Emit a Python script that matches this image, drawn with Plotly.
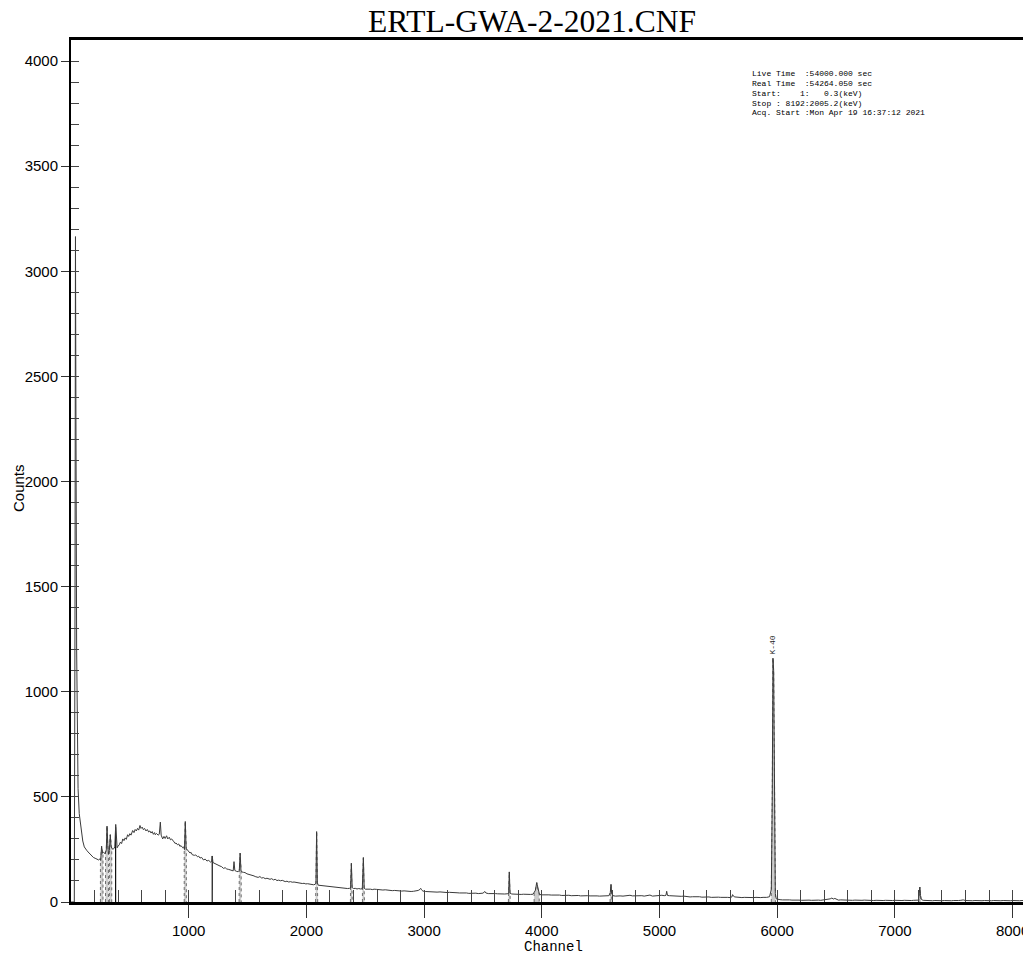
import numpy as np
import plotly.graph_objects as go

# ---------------- data ----------------
channels = [
    1, 25, 28, 34, 38, 42, 48, 54, 60, 70, 85, 100, 113, 125, 133, 145, 160, 175, 190, 205, 220, 235, 245,
    252, 260, 268, 277, 290, 300, 306, 312, 318, 326, 334, 340, 348, 356, 366, 372, 380, 386, 392, 400, 410,
    420, 430, 440, 450, 460, 470, 481, 490, 500, 510, 524, 535, 545, 555, 565, 575, 586, 595, 605, 615, 625,
    637, 648, 660, 670, 680, 690, 700, 710, 716, 726, 740, 750, 759, 766, 779, 790, 800, 812, 822, 835, 845,
    855, 865, 875, 885, 892, 905, 915, 925, 935, 949, 958, 964, 971, 978, 991, 1000, 1011, 1020, 1030, 1048,
    1060, 1075, 1085, 1096, 1110, 1125, 1140, 1155, 1170, 1185, 1195, 1200, 1206, 1215, 1230, 1245, 1266,
    1280, 1295, 1310, 1323, 1340, 1355, 1370, 1378, 1385, 1392, 1405, 1420, 1430, 1437, 1444, 1455, 1466,
    1478, 1495, 1510, 1525, 1540, 1555, 1565, 1578, 1590, 1605, 1620, 1635, 1650, 1665, 1680, 1691, 1705,
    1720, 1735, 1750, 1765, 1780, 1795, 1804, 1820, 1835, 1850, 1865, 1880, 1895, 1917, 1935, 1950, 1965,
    1980, 1995, 2010, 2030, 2045, 2060, 2075, 2081, 2087, 2093, 2100, 2115, 2130, 2143, 2160, 2175, 2190,
    2205, 2220, 2235, 2257, 2275, 2290, 2305, 2320, 2335, 2350, 2365, 2375, 2382, 2389, 2400, 2415, 2430,
    2445, 2460, 2475, 2484, 2491, 2500, 2515, 2530, 2545, 2560, 2575, 2597, 2615, 2630, 2650, 2670, 2690,
    2710, 2730, 2750, 2770, 2790, 2810, 2830, 2850, 2870, 2890, 2910, 2930, 2950, 2965, 2971, 2978, 2990,
    3010, 3030, 3050, 3070, 3090, 3110, 3135, 3155, 3175, 3195, 3215, 3240, 3260, 3280, 3300, 3320, 3340,
    3360, 3380, 3400, 3418, 3440, 3460, 3480, 3500, 3517, 3525, 3545, 3565, 3585, 3605, 3625, 3645, 3665,
    3685, 3705, 3718, 3724, 3730, 3745, 3765, 3785, 3805, 3825, 3843, 3865, 3885, 3905, 3925, 3945, 3957,
    3968, 3980, 4000, 4020, 4040, 4060, 4080, 4100, 4127, 4150, 4170, 4190, 4210, 4230, 4250, 4270, 4290,
    4310, 4330, 4350, 4370, 4390, 4410, 4430, 4450, 4470, 4490, 4510, 4530, 4550, 4570, 4582, 4588, 4594,
    4605, 4625, 4645, 4665, 4690, 4710, 4730, 4749, 4770, 4790, 4810, 4830, 4850, 4870, 4890, 4919, 4940,
    4960, 4980, 5000, 5020, 5040, 5055, 5061, 5068, 5085, 5105, 5125, 5145, 5165, 5185, 5205, 5225, 5245,
    5260, 5280, 5300, 5320, 5340, 5360, 5380, 5400, 5420, 5440, 5460, 5480, 5500, 5520, 5540, 5560, 5580,
    5600, 5615, 5621, 5628, 5640, 5660, 5680, 5700, 5720, 5740, 5760, 5780, 5800, 5820, 5840, 5860, 5880,
    5900, 5911, 5935, 5950, 5958, 5964, 5970, 5976, 5984, 5992, 6005, 6024, 6045, 6065, 6085, 6105, 6125,
    6145, 6165, 6185, 6205, 6225, 6250, 6270, 6290, 6310, 6330, 6350, 6370, 6390, 6410, 6430, 6450, 6465,
    6476, 6490, 6505, 6520, 6540, 6560, 6580, 6600, 6620, 6640, 6660, 6680, 6700, 6720, 6740, 6760, 6780,
    6800, 6820, 6840, 6860, 6880, 6900, 6920, 6940, 6960, 6980, 7000, 7020, 7040, 7060, 7080, 7100, 7120,
    7140, 7160, 7180, 7200, 7207, 7212, 7218, 7225, 7240, 7260, 7280, 7300, 7320, 7340, 7360, 7380, 7400,
    7420, 7440, 7460, 7480, 7500, 7520, 7540, 7560, 7580, 7600, 7620, 7640, 7660, 7680, 7700, 7720, 7740,
    7760, 7780, 7800, 7820, 7840, 7860, 7880, 7900, 7920, 7940, 7960, 7980, 8000, 8020, 8040, 8060, 8080,
    8100, 8130, 8160, 8192,
]
counts = [
    0, 0, 0, 1400, 3165, 2300, 1200, 760, 540, 420, 356, 290, 262, 250, 246, 238, 228, 222, 212, 208, 203, 200, 205,
    198, 265, 232, 236, 230, 248, 361, 280, 228, 245, 320, 262, 252, 250, 256, 262, 369, 270, 258, 266, 272,
    285, 278, 300, 292, 305, 298, 320, 312, 325, 318, 340, 330, 345, 338, 350, 342, 364, 350, 356, 344, 350,
    338, 345, 333, 338, 328, 335, 322, 330, 320, 326, 318, 322, 380, 318, 300, 312, 302, 315, 300, 308, 296,
    300, 290, 286, 278, 281, 272, 276, 265, 268, 258, 262, 250, 383, 255, 248, 240, 233, 236, 225, 222,
    224, 215, 218, 209, 212, 200, 204, 195, 198, 190, 192, 219, 188, 185, 180, 176, 171,
    168, 160, 163, 157, 155, 152, 150, 148, 192, 150, 146, 144, 150, 232, 150, 142, 141,
    140, 134, 132, 128, 126, 124, 121, 119, 117, 121, 114, 116, 111, 113, 109, 108, 111,
    105, 108, 102, 104, 101, 103, 100, 97, 99, 95, 97, 94, 95, 92, 90, 91, 88,
    89, 86, 87, 84, 85, 82, 84, 90, 335, 92, 80, 79, 80, 76, 77, 74, 75,
    72, 73, 70, 68, 70, 67, 68, 65, 66, 64, 65, 66, 184, 68, 64, 65, 62,
    64, 62, 63, 211, 66, 61, 62, 60, 61, 59, 61, 60, 58, 59, 57, 58, 56,
    56, 54, 55, 53, 54, 52, 53, 51, 52, 50, 51, 52, 55, 60, 65, 58, 52,
    50, 49, 50, 48, 49, 47, 48, 46, 47, 45, 46, 44, 45, 44, 43, 44, 42,
    43, 41, 42, 41, 42, 40, 41, 42, 50, 43, 40, 41, 39, 40, 39, 38, 39,
    38, 39, 40, 143, 42, 38, 37, 38, 37, 36, 37, 36, 35, 36, 37, 55, 92,
    55, 36, 34, 35, 33, 34, 33, 34, 32, 33, 31, 32, 31, 32, 30, 31, 30,
    31, 29, 30, 29, 30, 29, 30, 28, 29, 28, 29, 28, 29, 30, 45, 84, 40,
    30, 28, 30, 29, 28, 30, 29, 32, 29, 30, 28, 29, 30, 28, 29, 33, 28,
    29, 33, 31, 32, 30, 32, 51, 31, 30, 29, 30, 28, 29, 27, 28, 26, 27,
    24, 25, 26, 24, 25, 23, 24, 23, 24, 22, 23, 22, 23, 22, 23, 21, 22,
    21, 24, 35, 28, 24, 22, 23, 21, 22, 21, 22, 20, 21, 22, 20, 21, 22,
    21, 22, 25, 60, 500, 1160, 1100, 450, 40, 15, 12, 11, 10, 11, 9, 10, 9,
    10, 8, 9, 8, 9, 8, 9, 8, 9, 8, 9, 8, 10, 9, 12, 15, 19,
    14, 17, 11, 9, 10, 9, 10, 8, 9, 8, 9, 8, 9, 8, 9, 8, 7,
    8, 7, 8, 7, 8, 7, 8, 7, 8, 7, 8, 7, 8, 7, 8, 7, 8,
    7, 8, 7, 9, 40, 71, 30, 12, 8, 7, 8, 7, 6, 7, 6, 7, 6,
    7, 6, 7, 6, 7, 6, 7, 8, 10, 7, 6, 7, 6, 7, 6, 7, 6,
    7, 6, 7, 6, 7, 6, 7, 6, 7, 6, 7, 6, 7, 6, 7, 6, 7,
    6, 7, 6, 6,
]

# regions of interest (shaded peak areas)
roi_start = [250, 293, 326, 962, 1428, 2078, 2374, 2476, 3716, 3935, 4580, 5950, 7203]
roi_end = [272, 318, 346, 980, 1446, 2096, 2390, 2493, 3732, 3978, 4596, 5985, 7222]

# single-line peak markers
marker_channels = [379, 1200]

# identified peak label
peak_label = "K-40"
peak_label_channel = 5964

x_ticks = [1000, 2000, 3000, 4000, 5000, 6000, 7000, 8000]
y_ticks = [0, 500, 1000, 1500, 2000, 2500, 3000, 3500, 4000]

title_text = "ERTL-GWA-2-2021.CNF"
info_lines = [
    "Live Time  :54000.000 sec",
    "Real Time  :54264.050 sec",
    "Start:    1:   0.3(keV)",
    "Stop : 8192:2005.2(keV)",
    "Acq. Start :Mon Apr 19 16:37:12 2021",
]

# ---------------- figure ----------------
W, H = 1023, 961
ML, MR, MT, MB = 71, 0, 40, 59
PX_PER_CH = 0.1177
x_max = (W - ML - MR) / PX_PER_CH
y_max = 4100

ch = np.array(channels, dtype=float)
ct = np.array(counts, dtype=float)

SANS = "Liberation Sans, Arial, sans-serif"
MONO = "Liberation Mono, DejaVu Sans Mono, monospace"

fig = go.Figure()

# ROI shaded areas under the spectrum
for s, e in zip(roi_start, roi_end):
    inside = (ch > s) & (ch < e)
    xs = [s, s] + list(ch[inside]) + [e, e]
    ys = [0, float(np.interp(s, ch, ct))] + list(ct[inside]) + [float(np.interp(e, ch, ct)), 0]
    fig.add_trace(go.Scatter(
        x=xs, y=ys, mode="lines", fill="toself", fillcolor="#cccccc",
        line=dict(color="#6e6e6e", width=1, dash="dot"), hoverinfo="skip", showlegend=False,
    ))

# marker lines
for m in marker_channels:
    fig.add_trace(go.Scatter(
        x=[m, m], y=[0, float(np.interp(m, ch, ct))], mode="lines",
        line=dict(color="#111", width=1.2), hoverinfo="skip", showlegend=False,
    ))

# spectrum
fig.add_trace(go.Scatter(
    x=channels, y=counts, mode="lines", line=dict(color="#3a3a3a", width=1),
    showlegend=False,
))

# invisible trace for overlay axes (inside ticks)
fig.add_trace(go.Scatter(x=[0], y=[0], xaxis="x2", yaxis="y2", mode="markers",
                         marker=dict(opacity=0), hoverinfo="skip", showlegend=False))

def px_x(p):
    return (p - ML) / (W - ML - MR)

def px_y(p):
    return (H - MB - p) / (H - MT - MB)

annotations = []
annotations.append(dict(
    text=title_text, xref="paper", yref="paper", x=px_x(532), y=px_y(21),
    xanchor="center", yanchor="middle", showarrow=False,
    font=dict(family="Liberation Serif, Times New Roman, serif", size=31.5, color="#000"),
))
for i, line in enumerate(info_lines):
    annotations.append(dict(
        text=line.replace(" ", "&nbsp;"), xref="paper", yref="paper",
        x=px_x(750), y=px_y(74 + i * 9.7), xanchor="left", yanchor="middle",
        showarrow=False, font=dict(family=MONO, size=8, color="#000"),
    ))
annotations.append(dict(
    text="Counts", xref="paper", yref="paper", x=px_x(18), y=px_y(488),
    xanchor="center", yanchor="middle", textangle=-90, showarrow=False,
    font=dict(family=SANS, size=15, color="#000"),
))
annotations.append(dict(
    text="Channel", xref="paper", yref="paper", x=px_x(553), y=px_y(947),
    xanchor="center", yanchor="middle", showarrow=False,
    font=dict(family=MONO, size=14, color="#000"),
))
annotations.append(dict(
    text=peak_label, x=peak_label_channel, y=float(np.interp(peak_label_channel, ch, ct)),
    xref="x", yref="y", xanchor="center", yanchor="bottom", textangle=-90, yshift=2,
    showarrow=False, font=dict(family=MONO, size=8, color="#222"),
))

fig.update_layout(
    width=W, height=H,
    margin=dict(l=ML, r=MR, t=MT, b=MB, pad=0, autoexpand=False),
    paper_bgcolor="white", plot_bgcolor="white",
    showlegend=False,
    annotations=annotations,
    xaxis=dict(
        range=[0, x_max], tickvals=x_ticks, ticks="outside", ticklen=13, tickwidth=1,
        tickcolor="#333", showgrid=False, zeroline=False, ticklabeloverflow="allow",
        automargin=False,
        showline=True, linecolor="#000", linewidth=2.5, mirror=True,
        tickfont=dict(family=SANS, size=15, color="#000"),
    ),
    yaxis=dict(
        range=[0, y_max], tickvals=y_ticks, ticks="outside", ticklen=8, tickwidth=1,
        tickcolor="#333", showgrid=False, zeroline=False, ticklabeloverflow="allow",
        automargin=False,
        showline=True, linecolor="#000", linewidth=2, mirror=False,
        tickfont=dict(family=SANS, size=15, color="#000"),
    ),
    xaxis2=dict(
        overlaying="x", matches="x", anchor="y", side="bottom", automargin=False,
        tick0=0, dtick=200, ticks="inside", ticklen=12, tickwidth=1, tickcolor="#444",
        showticklabels=False, showgrid=False, zeroline=False, showline=False,
    ),
    yaxis2=dict(
        overlaying="y", matches="y", anchor="x", side="left", automargin=False,
        tick0=0, dtick=100, ticks="inside", ticklen=8, tickwidth=1, tickcolor="#444",
        showticklabels=False, showgrid=False, zeroline=False, showline=False,
    ),
)

fig.write_html("out.html")
